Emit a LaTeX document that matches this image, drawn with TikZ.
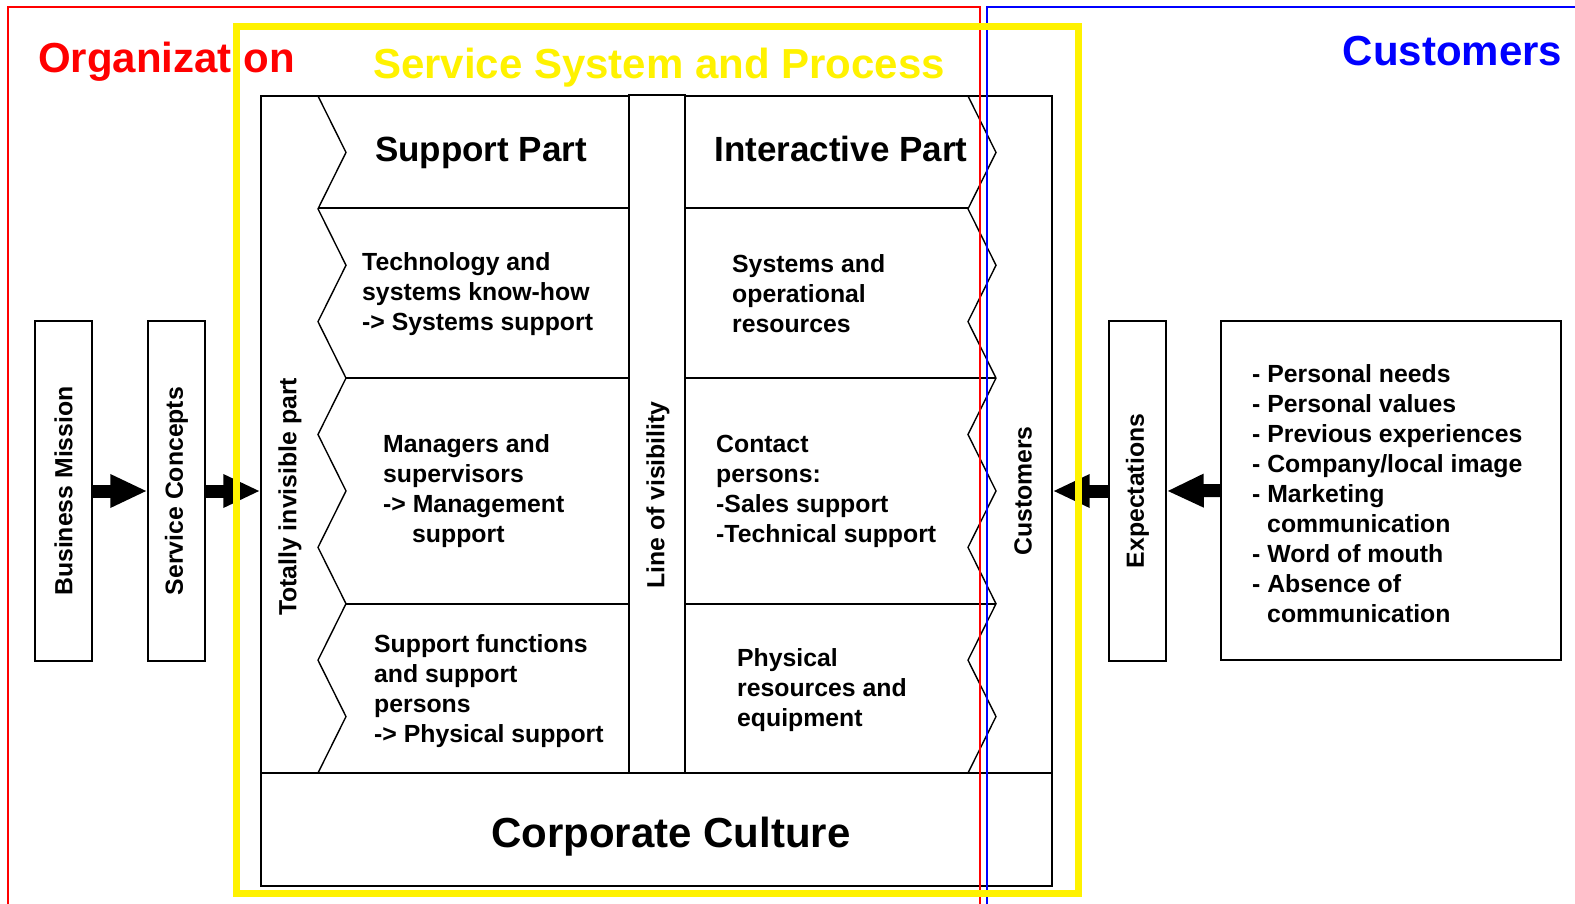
\documentclass[tikz,border=0pt]{standalone}
\usepackage{fontspec}
\setmainfont{Liberation Sans}
\usetikzlibrary{arrows.meta}
\begin{document}
\begin{tikzpicture}[x=1pt,y=-1pt,
  box/.style={draw, line width=1.4pt, inner sep=0pt, fill=white},
  body/.style={font=\bfseries\fontsize{24.8}{30}\selectfont, align=left, anchor=west, inner sep=0pt},
  vlabel/.style={font=\bfseries\fontsize{24.8}{30}\selectfont, rotate=90, inner sep=0pt},
  head/.style={font=\bfseries\fontsize{35}{42}\selectfont, anchor=base, inner sep=0pt},
  title/.style={font=\bfseries\fontsize{42}{50}\selectfont, anchor=base, inner sep=0pt},
  arr/.style={line width=13pt, -{Triangle[length=37pt,width=31pt]}},
  thin/.style={line width=1.4pt}]
\useasboundingbox (0,0) rectangle (1575,903);
% titles
\node[title, text=red] (org) at (166.5,72) {Organization};
\node[title, text=blue] (cust) at (1452.5,65) {Customers};
% main box
\node[box, minimum width=791pt, minimum height=790pt] (main) at (656.5,491) {};
\draw[thin] (318,208) -- (968,208);
\draw[thin] (346,378) -- (996,378);
\draw[thin] (346,604) -- (996,604);
\draw[thin] (261,773) -- (1052,773);
% zigzags
\draw[thin, line join=miter] (318,96) \foreach \i in {1,...,12} { -- ({318+28*mod(\i,2)}, {96+56.4167*\i}) };
\draw[thin, line join=miter] (968,96) \foreach \i in {1,...,12} { -- ({968+28*mod(\i,2)}, {96+56.4167*\i}) };
% line of visibility
\node[box, minimum width=56pt, minimum height=678pt] (vis) at (657,434) {};
\node[vlabel] (visl) at (658,495) {Line of visibility};
\node[vlabel] (tip) at (290,497) {Totally invisible part};
\node[vlabel] (custl) at (1023,491) {Customers};
% headers
\node[head] (sp) at (481,161) {Support Part};
\node[head] (ip) at (841,161) {Interactive Part};
\node[title] (cc) at (671,847) {Corporate Culture};
% cells
\node[body] (c21) at (362,294) {Technology and\\systems know-how\\-> Systems support};
\node[body] (c22) at (732,294) {Systems and\\operational\\resources};
\node[body] (c31) at (383,491) {Managers and\\supervisors\\-> Management\\\hspace*{29pt}support};
\node[body] (c32) at (716,491) {Contact\\persons:\\-Sales support\\-Technical support};
\node[body] (c41) at (374,691) {Support functions\\and support\\persons\\-> Physical support};
\node[body] (c42) at (737,690) {Physical\\resources and\\equipment};
% side boxes
\node[box, minimum width=57pt, minimum height=340pt] (bm) at (63.5,491) {};
\node[vlabel] at (bm.center) {Business Mission};
\node[box, minimum width=57pt, minimum height=340pt] (sc) at (176.5,491) {};
\node[vlabel] at (sc.center) {Service Concepts};
\node[box, minimum width=57pt, minimum height=340pt] (ex) at (1137.5,491) {};
\node[vlabel] at (ex.center) {Expectations};
\node[box, minimum width=340pt, minimum height=339pt] (lst) at (1391,490.5) {};
\node[body] (lstt) at (1252,494) {- Personal needs\\- Personal values\\- Previous experiences\\- Company/local image\\- Marketing\\\hspace*{15pt}communication\\- Word of mouth\\- Absence of\\\hspace*{15pt}communication};
% arrows
\draw[arr] (bm.east) -- (sc.west);
\draw[arr] (sc.east) -- (main.west);
\draw[arr] (ex.west) -- (main.east);
\draw[arr] (lst.west) -- (ex.east);
% region frames
\draw[red, line width=1.5pt] (8,910) -- (8,7) -- (980,7) -- (980,910);
\draw[blue, line width=1.5pt] (987,910) -- (987,7) -- (1590,7);
\draw[yellow, line width=7pt] (236.5,26.5) rectangle (1078.5,893.5);
\node[title, text=yellow] (ssp) at (659,78) {Service System and Process};
\end{tikzpicture}
\end{document}
